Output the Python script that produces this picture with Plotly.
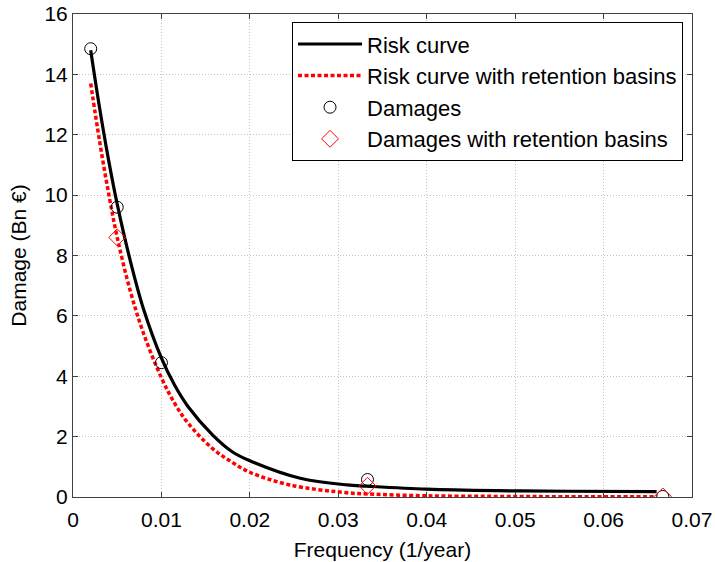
import plotly.graph_objects as go

# Curve readings (frequency in 1/year, damage in Bn €)
risk_x = [0.002, 0.003, 0.004, 0.005, 0.0065, 0.008, 0.010, 0.0115, 0.013, 0.0158,
          0.018, 0.020, 0.0257, 0.031, 0.0332, 0.040, 0.048, 0.056, 0.066]
risk_y = [14.8, 12.9, 11.2, 9.7, 7.8, 6.2, 4.6, 3.7, 3.0, 2.05,
          1.5, 1.2, 0.62, 0.40, 0.36, 0.26, 0.21, 0.19, 0.18]

ret_x = [0.002, 0.003, 0.004, 0.005, 0.0065, 0.008, 0.010, 0.0115, 0.013, 0.0158,
         0.018, 0.020, 0.0245, 0.031, 0.0333, 0.040, 0.048, 0.056, 0.066]
ret_y = [13.7, 11.8, 10.1, 8.6, 6.8, 5.4, 3.95, 3.1, 2.45, 1.6,
         1.15, 0.82, 0.40, 0.14, 0.10, 0.04, 0.02, 0.01, 0.01]

dmg_x = [0.002, 0.005, 0.010, 0.0333, 0.0667]
dmg_y = [14.85, 9.6, 4.45, 0.58, 0.02]

dmg_ret_x = [0.005, 0.0333, 0.0667]
dmg_ret_y = [8.6, 0.37, 0.02]

x_ticks = [0, 0.01, 0.02, 0.03, 0.04, 0.05, 0.06, 0.07]
x_tick_labels = ["0", "0.01", "0.02", "0.03", "0.04", "0.05", "0.06", "0.07"]
y_ticks = [0, 2, 4, 6, 8, 10, 12, 14, 16]

FONT = "Liberation Sans, Arial, sans-serif"

fig = go.Figure()
fig.add_trace(go.Scatter(x=risk_x, y=risk_y, mode="lines", name="Risk curve",
                         line=dict(color="black", width=3.2, shape="spline")))
fig.add_trace(go.Scatter(x=ret_x, y=ret_y, mode="lines", name="Risk curve with retention basins",
                         line=dict(color="red", width=3.5, dash="4px,2.5px", shape="spline")))
fig.add_trace(go.Scatter(x=dmg_x, y=dmg_y, mode="markers", name="Damages",
                         marker=dict(symbol="circle-open", size=12, color="black",
                                     line=dict(width=1, color="black"))))
fig.add_trace(go.Scatter(x=dmg_ret_x, y=dmg_ret_y, mode="markers",
                         name="Damages with retention basins",
                         marker=dict(symbol="diamond-open", size=13, color="red",
                                     line=dict(width=1, color="red"))))

axis_common = dict(
    showline=True, linecolor="#404040", linewidth=1, mirror="ticks",
    ticks="inside", ticklen=5, tickcolor="#404040",
    showgrid=True, gridcolor="#c4c4c4", griddash="1px,2px", gridwidth=1,
    zeroline=False, automargin=False, ticklabeloverflow="allow",
    tickfont=dict(family=FONT, size=21, color="black"),
)

fig.update_xaxes(range=[0, 0.07], tickvals=x_ticks, ticktext=x_tick_labels,
                 ticklabelstandoff=4,
                 title=dict(text="Frequency (1/year)", standoff=12,
                            font=dict(family=FONT, size=21, color="black")),
                 **axis_common)
fig.update_yaxes(range=[0, 16], tickvals=y_ticks,
                 title=dict(text="Damage (Bn €)", standoff=12,
                            font=dict(family=FONT, size=21, color="black")),
                 **axis_common)

fig.update_layout(
    width=715, height=562,
    margin=dict(l=73, r=23, t=14, b=65),
    paper_bgcolor="white", plot_bgcolor="white",
    font=dict(family=FONT, size=21, color="black"),
    legend=dict(x=0.9855, y=0.983, xanchor="right", yanchor="top",
                bgcolor="white", bordercolor="black", borderwidth=1,
                font=dict(family=FONT, size=22), tracegroupgap=0, itemwidth=64),
    showlegend=True,
)

fig.write_html("out.html", config={"displayModeBar": False},
               post_script="document.body.style.margin='0px';")
